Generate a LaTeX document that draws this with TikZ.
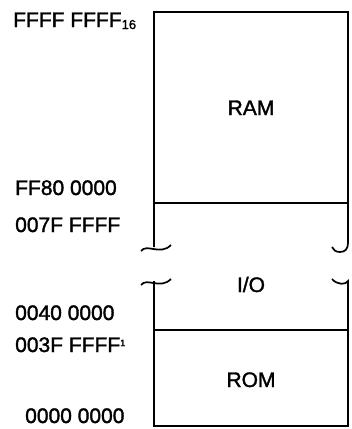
\documentclass[tikz,border=0pt]{standalone}
\usepackage{fontspec}
\setmainfont{Liberation Sans}
\newfontfamily\heavyfont{Liberation Sans}[FakeBold=1.6]
\begin{document}
\begin{tikzpicture}[x=1pt,y=-1pt,
  lbl/.style={inner sep=0pt,anchor=base west,font=\heavyfont\fontsize{21}{24}\selectfont},
  area/.style={inner sep=0pt,anchor=base,font=\heavyfont\fontsize{21}{24}\selectfont},
  edge/.style={line width=1.7pt,line cap=butt,line join=miter}]
\useasboundingbox (0,0) rectangle (352,429);
% box outline
\draw[edge] (154,247) -- (154,12) -- (348,12) -- (348,243)
  .. controls (348,249) and (345,252) .. (340,252)
  .. controls (336,252) and (333,250) .. (332,247);
\draw[edge] (141,251) .. controls (147,243) and (160,256) .. (171,245);
\draw[edge] (141,285) .. controls (147,277) and (160,290) .. (171,279);
\draw[edge] (154,281) -- (154,426) -- (348,426) -- (348,281)
  .. controls (346,285) and (337,285) .. (332,279);
\draw[edge] (154,203) -- (348,203);
\draw[edge] (154,330) -- (348,330);
% area labels
\node[area] (ram) at (251,115) {RAM};
\node[area] (io) at (251,292) {I/O};
\node[area] (rom) at (251,387) {ROM};
% address labels
\node[lbl] (a1) at (13,27) {FFFF FFFF\raisebox{-2pt}{\fontsize{13}{13}\selectfont 16}};
\node[lbl] (a2) at (15,195) {FF80 0000};
\node[lbl] (a3) at (15,232) {007F FFFF};
\node[lbl] (a4) at (15,320) {0040 0000};
\node[lbl] (a5) at (15,352) {003F FFFF\raisebox{6pt}{\fontsize{9}{9}\selectfont 1}};
\node[lbl] (a6) at (25,423) {0000 0000};
\end{tikzpicture}
\end{document}
